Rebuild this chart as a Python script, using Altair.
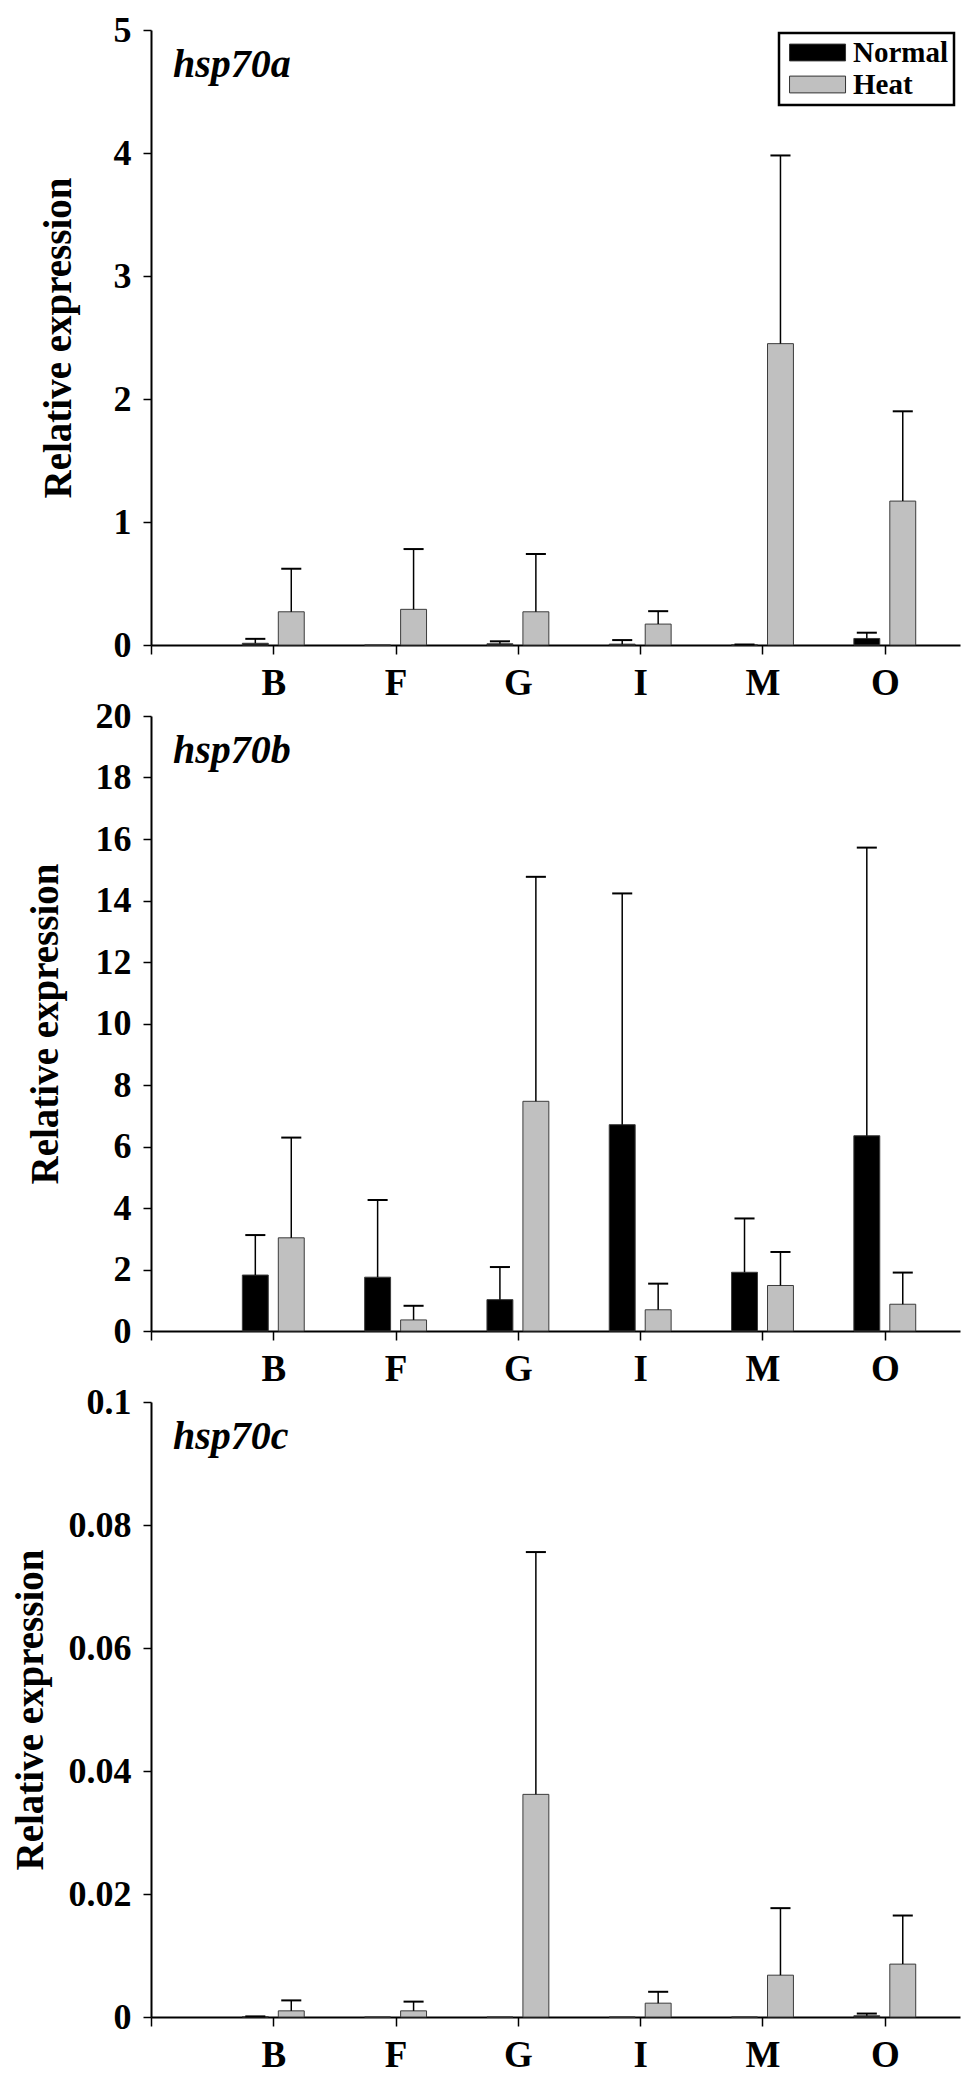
import altair as alt
import pandas as pd

# ---------------- data ----------------
categories = ["B", "F", "G", "I", "M", "O"]
groups = ["Normal", "Heat"]
genes = ["hsp70a", "hsp70b", "hsp70c"]

a_normal = [0.014, 0.0, 0.01, 0.007, 0.002, 0.053]
a_normal_up = [0.05, 0.0, 0.03, 0.04, 0.004, 0.10]
a_heat = [0.27, 0.29, 0.27, 0.17, 2.45, 1.17]
a_heat_up = [0.62, 0.78, 0.74, 0.275, 3.98, 1.90]

b_normal = [1.82, 1.75, 1.02, 6.71, 1.91, 6.35]
b_normal_up = [3.12, 4.26, 2.08, 14.23, 3.66, 15.72]
b_heat = [3.03, 0.36, 7.47, 0.69, 1.48, 0.87]
b_heat_up = [6.29, 0.82, 14.77, 1.54, 2.57, 1.90]

c_normal = [0.00005, 0.0, 0.0, 0.0, 0.0, 0.0002]
c_normal_up = [0.0001, 0.0, 0.0, 0.0, 0.0, 0.00056]
c_heat = [0.001, 0.001, 0.0362, 0.00225, 0.0068, 0.0086]
c_heat_up = [0.0027, 0.0025, 0.0756, 0.0041, 0.0177, 0.0165]

y_max = [5, 20, 0.1]
y_ticks = [
    [0, 1, 2, 3, 4, 5],
    [0, 2, 4, 6, 8, 10, 12, 14, 16, 18, 20],
    [0, 0.02, 0.04, 0.06, 0.08, 0.1],
]


def frame(normal, normal_up, heat, heat_up):
    rows = []
    for i, t in enumerate(categories):
        rows.append(dict(tissue=t, idx=i + 1, group="Normal", mean=normal[i], upper=normal_up[i]))
        rows.append(dict(tissue=t, idx=i + 1, group="Heat", mean=heat[i], upper=heat_up[i]))
    return pd.DataFrame(rows)


frames = [
    frame(a_normal, a_normal_up, a_heat, a_heat_up),
    frame(b_normal, b_normal_up, b_heat, b_heat_up),
    frame(c_normal, c_normal_up, c_heat, c_heat_up),
]

# ---------------- style ----------------
FONT = "Liberation Serif"
BAR_OFF = 0.147
BAR_HALF = 0.106
CAP_HALF = 0.082
XMAX = 6.615
W, H = 809, 615
title_x = [-81, -94, -109]

label_expr = "[''," + ",".join("'%s'" % c for c in categories) + "][datum.value]"


def panel(k):
    df = frames[k]
    base = alt.Chart(df).transform_calculate(
        cx="datum.idx + (datum.group == 'Normal' ? -%f : %f)" % (BAR_OFF, BAR_OFF)
    ).transform_calculate(
        xl="datum.cx - %f" % BAR_HALF,
        xr="datum.cx + %f" % BAR_HALF,
        cl="datum.cx - %f" % CAP_HALF,
        cr="datum.cx + %f" % CAP_HALF,
    )
    xscale = alt.Scale(domain=[0, XMAX], nice=False, zero=False)
    yscale = alt.Scale(domain=[0, y_max[k]], nice=False)
    xaxis = alt.Axis(
        values=list(range(0, len(categories) + 1)), labelExpr=label_expr, title=None,
        grid=False, labelFontSize=37, tickSize=9, labelPadding=11, labelFlush=False,
        labelOverlap=False,
    )
    yaxis = alt.Axis(
        values=y_ticks[k], format="~g", title="Relative expression", titleX=title_x[k],
        titleY=H / 2, titleAngle=270, titleAlign="center", titleBaseline="alphabetic",
        grid=False, labelFontSize=36, tickSize=8, labelPadding=12, labelFlush=False,
        labelOverlap=False,
    )
    if k == 0:
        legend = alt.Legend(
            orient="none", legendX=628, legendY=3, direction="vertical", title=None,
            symbolType="M-0.64,-0.6H3.36V0.6H-0.64Z", symbolSize=784,
            symbolStrokeColor="#333333", symbolStrokeWidth=1,
            labelFont=FONT, labelFontSize=29, labelFontWeight="bold", labelColor="black",
            strokeColor="black", fillColor="white", padding=5, rowPadding=2, labelOffset=40,
        )
    else:
        legend = None
    color = alt.Color(
        "group:N", scale=alt.Scale(domain=groups, range=["#000000", "#c0c0c0"]), legend=legend
    )
    bars = base.mark_rect(stroke="#3c3c3c", strokeWidth=1).encode(
        x=alt.X("xl:Q", scale=xscale, axis=xaxis),
        x2="xr:Q",
        y=alt.Y("mean:Q", scale=yscale, axis=yaxis),
        y2=alt.datum(0),
        color=color,
    )
    err = base.transform_filter("datum.upper > 0")
    stems = err.mark_rule(color="black", strokeWidth=1.5).encode(
        x="cx:Q", y="mean:Q", y2="upper:Q"
    )
    caps = err.mark_rule(color="black", strokeWidth=2).encode(
        x="cl:Q", x2="cr:Q", y="upper:Q"
    )
    label = alt.Chart(pd.DataFrame({"gene": [genes[k]]})).mark_text(
        font=FONT, fontSize=40, fontWeight="bold", fontStyle="italic",
        align="left", baseline="alphabetic", color="black",
    ).encode(text="gene:N", x=alt.value(22), y=alt.value(47))
    return alt.layer(bars, stems, caps, label).properties(width=W, height=H)


chart = alt.vconcat(
    panel(0), panel(1), panel(2), spacing=71, bounds="flush"
).resolve_legend(color="independent").properties(
    padding={"left": 3, "top": 4, "right": 5, "bottom": 5}
).configure_view(stroke=None).configure_axis(
    domainColor="black", domainWidth=2, tickColor="black", tickWidth=1.5,
    labelFont=FONT, labelFontWeight="bold", labelColor="black",
    titleFont=FONT, titleFontWeight="bold", titleFontSize=39, titleColor="black",
).configure_legend(strokeWidth=2.5)

chart.save("out.html", embed_options={"renderer": "svg", "actions": False})
